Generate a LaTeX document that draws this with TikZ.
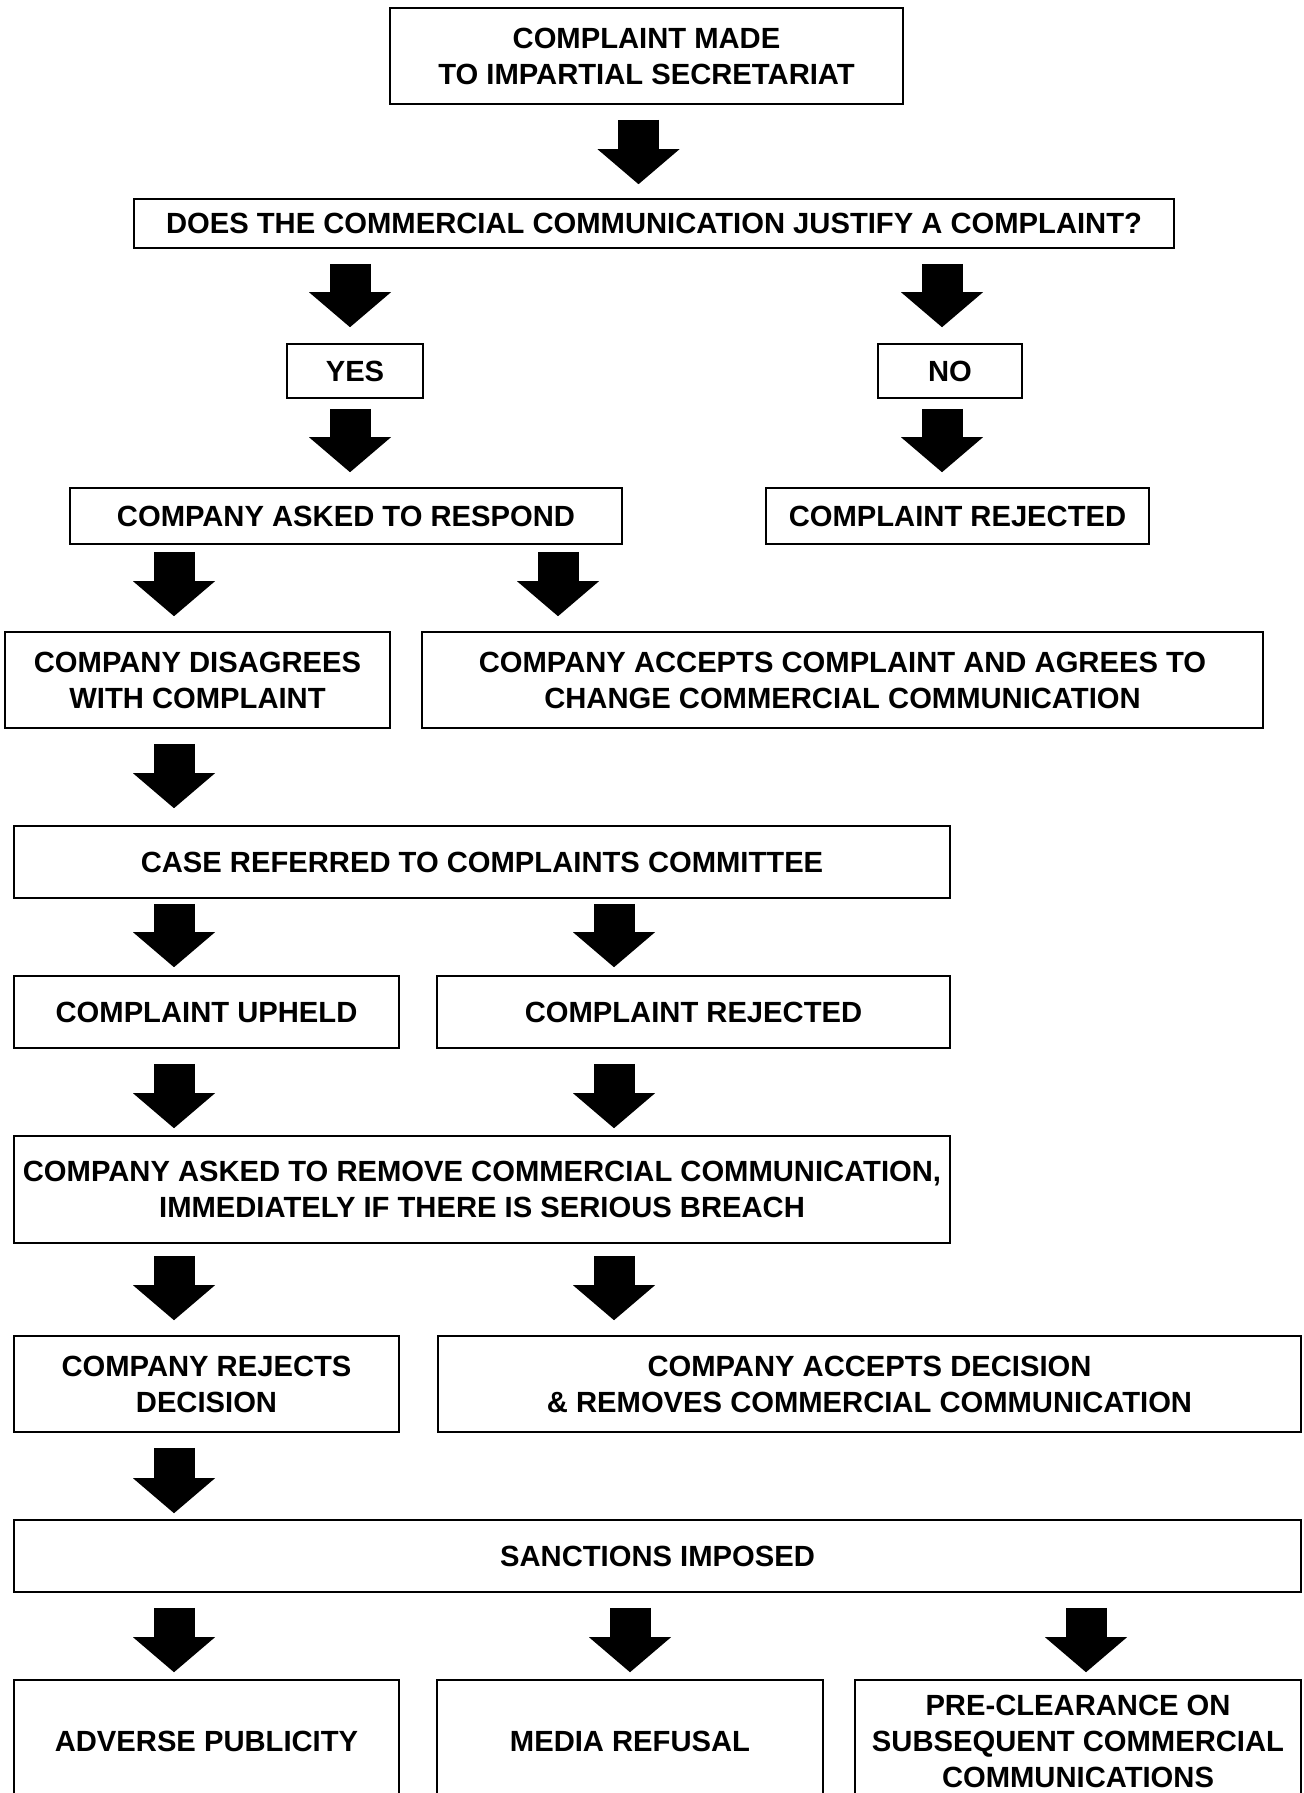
\documentclass[tikz,border=0pt]{standalone}
\usepackage{fontspec}
\setmainfont{Liberation Sans}
\usetikzlibrary{arrows.meta}
\tikzset{%
    box/.style={draw, line width=0.8pt, inner sep=0pt, align=center,
        font=\fontsize{14.6}{18}\selectfont\bfseries},
    blk/.style={line width=20.5pt, -{Triangle[width=41pt,length=17.5pt,line width=0pt]}}
}

\begin{document}
\begin{tikzpicture}[x=0.5pt,y=-0.5pt]
            \useasboundingbox (0,0) rectangle (1303,1793);

            % columns of the block arrows
            \coordinate (cTop) at (638.5,0);
            \coordinate (cYes) at (350,0);
            \coordinate (cNo) at (942,0);
            \coordinate (cLeft) at (174,0);
            \coordinate (cMidA) at (558,0);
            \coordinate (cMidB) at (614,0);
            \coordinate (cMidC) at (630,0);
            \coordinate (cRight) at (1086,0);

            % complaint and first question
            \node[box, minimum width=256.5pt, minimum height=48pt] (made) at (646.5,56){COMPLAINT MADE\\TO IMPARTIAL SECRETARIAT};
            \node[box, minimum width=520pt, minimum height=24.5pt] (justify) at (654,223.5){DOES THE COMMERCIAL COMMUNICATION JUSTIFY A COMPLAINT?};
            \node[box, minimum width=68pt, minimum height=27pt] (yes) at (355,371){YES};
            \node[box, minimum width=72pt, minimum height=27pt] (no) at (950,371){NO};
            \node[box, minimum width=276pt, minimum height=28pt] (respond) at (346,516){COMPANY ASKED TO RESPOND};
            \node[box, minimum width=191.5pt, minimum height=28pt] (rejA) at (957.5,516){COMPLAINT REJECTED};

            % company answers
            \node[box, minimum width=192.5pt, minimum height=48pt] (disagree) at (197.5,680){COMPANY DISAGREES\\WITH COMPLAINT};
            \node[box, minimum width=420.5pt, minimum height=48pt] (acceptA) at (842.5,680){COMPANY ACCEPTS COMPLAINT AND AGREES TO\\CHANGE COMMERCIAL COMMUNICATION};

            % committee
            \node[box, minimum width=468pt, minimum height=36pt] (committee) at (482,862){CASE REFERRED TO COMPLAINTS COMMITTEE};
            \node[box, minimum width=192.5pt, minimum height=36pt] (upheld) at (206.5,1012){COMPLAINT UPHELD};
            \node[box, minimum width=256.5pt, minimum height=36pt] (rejB) at (693.5,1012){COMPLAINT REJECTED};
            \node[box, minimum width=468pt, minimum height=53.5pt] (remove) at (482,1189.5){COMPANY ASKED TO REMOVE COMMERCIAL COMMUNICATION,\\IMMEDIATELY IF THERE IS SERIOUS BREACH};
            \node[box, minimum width=192.5pt, minimum height=48pt] (rejects) at (206.5,1384){COMPANY REJECTS\\DECISION};
            \node[box, minimum width=431.5pt, minimum height=48pt] (acceptB) at (869.5,1384){COMPANY ACCEPTS DECISION\\\& REMOVES COMMERCIAL COMMUNICATION};

            % sanctions
            \node[box, minimum width=643.5pt, minimum height=36pt] (sanctions) at (657.5,1556){SANCTIONS IMPOSED};
            \node[box, minimum width=192.5pt, minimum height=61.5pt] (adverse) at (206.5,1741.5){ADVERSE PUBLICITY};
            \node[box, minimum width=193pt, minimum height=61.5pt] (media) at (630,1741.5){MEDIA REFUSAL};
            \node[box, minimum width=223pt, minimum height=61.5pt] (preclear) at (1078,1741.5){PRE-CLEARANCE ON\\SUBSEQUENT COMMERCIAL\\COMMUNICATIONS};

            % block arrows
            \draw[blk, shorten <=7.5pt, shorten >=7pt] (made.south -| cTop) -- (justify.north -| cTop);
            \draw[blk, shorten <=7.5pt, shorten >=8pt] (justify.south -| cYes) -- (yes.north -| cYes);
            \draw[blk, shorten <=7.5pt, shorten >=8pt] (justify.south -| cNo) -- (no.north -| cNo);
            \draw[blk, shorten <=5pt, shorten >=7.5pt] (yes.south -| cYes) -- (respond.north -| cYes);
            \draw[blk, shorten <=5pt, shorten >=7.5pt] (no.south -| cNo) -- (rejA.north -| cNo);
            \draw[blk, shorten <=3.5pt, shorten >=7.5pt] (respond.south -| cLeft) -- (disagree.north -| cLeft);
            \draw[blk, shorten <=3.5pt, shorten >=7.5pt] (respond.south -| cMidA) -- (acceptA.north -| cMidA);
            \draw[blk, shorten <=7.5pt, shorten >=8.5pt] (disagree.south -| cLeft) -- (committee.north -| cLeft);
            \draw[blk, shorten <=2.5pt, shorten >=4pt] (committee.south -| cLeft) -- (upheld.north -| cLeft);
            \draw[blk, shorten <=2.5pt, shorten >=4pt] (committee.south -| cMidB) -- (rejB.north -| cMidB);
            \draw[blk, shorten <=7.5pt, shorten >=3.5pt] (upheld.south -| cLeft) -- (remove.north -| cLeft);
            \draw[blk, shorten <=7.5pt, shorten >=3.5pt] (rejB.south -| cMidB) -- (remove.north -| cMidB);
            \draw[blk, shorten <=6pt, shorten >=7.5pt] (remove.south -| cLeft) -- (rejects.north -| cLeft);
            \draw[blk, shorten <=6pt, shorten >=7.5pt] (remove.south -| cMidB) -- (acceptB.north -| cMidB);
            \draw[blk, shorten <=7.5pt, shorten >=3pt] (rejects.south -| cLeft) -- (sanctions.north -| cLeft);
            \draw[blk, shorten <=7.5pt, shorten >=3.5pt] (sanctions.south -| cLeft) -- (adverse.north -| cLeft);
            \draw[blk, shorten <=7.5pt, shorten >=3.5pt] (sanctions.south -| cMidC) -- (media.north -| cMidC);
            \draw[blk, shorten <=7.5pt, shorten >=3.5pt] (sanctions.south -| cRight) -- (preclear.north -| cRight);
        \end{tikzpicture}
\end{document}
